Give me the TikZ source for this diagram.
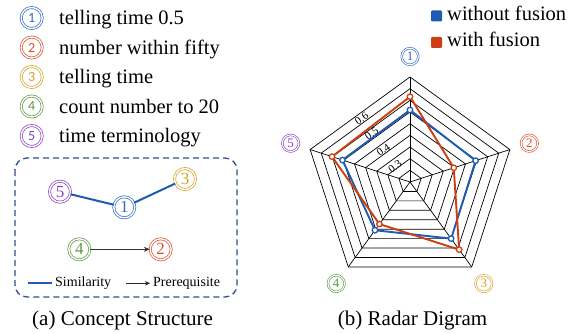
\documentclass[tikz,border=0pt]{standalone}
\usepackage{fontspec}
\setmainfont{Liberation Serif}
\newfontfamily\tnr{Liberation Serif}
\newfontfamily\numfont{Carlito}
\usetikzlibrary{arrows.meta}

\definecolor{cOne}{HTML}{2E6BC6}
\definecolor{cTwo}{HTML}{E04E2B}
\definecolor{cThree}{HTML}{D9A21E}
\definecolor{cFour}{HTML}{5C9A43}
\definecolor{cFive}{HTML}{8B3FC9}
\definecolor{boxblue}{HTML}{2F4E8E}
\definecolor{simblue}{HTML}{1F5BB5}
\definecolor{serBlue}{HTML}{1E5CB3}
\definecolor{serRed}{HTML}{CF3E12}

\begin{document}
\begin{tikzpicture}[x=1pt,y=-1pt,
  ringnode/.style={circle, draw=#1, text=#1, double=white, double distance=1.4pt,
    line width=0.7pt, inner sep=0pt, minimum size=21pt},
  legnum/.style={ringnode=#1, font=\numfont\fontsize{14}{14}\selectfont},
  graphnum/.style={ringnode=#1, font=\tnr\fontsize{17}{17}\selectfont},
  radnum/.style={ringnode=#1, minimum size=16.6pt, double distance=1.1pt,
    line width=0.6pt, font=\tnr\fontsize{13}{13}\selectfont},
  legtext/.style={anchor=base west, inner sep=0pt, font=\tnr\fontsize{20.5}{24}\selectfont},
  smalltext/.style={anchor=west, inner sep=0pt, font=\tnr\fontsize{14}{16}\selectfont},
  caption/.style={anchor=base, inner sep=0pt, font=\tnr\fontsize{21}{24}\selectfont},
  simline/.style={draw=simblue, line width=2pt},
  preline/.style={draw=black!80, line width=1.6pt, -{Stealth[length=6pt,width=5pt]}},
  gridline/.style={draw=black, line width=0.7pt},
  series/.style={draw=#1, line width=1.9pt, line join=round},
  marker/.style={circle, draw=#1, fill=white, line width=1.3pt, inner sep=0pt, minimum size=5.5pt},
  ticklabel/.style={rotate=36, inner sep=0pt, font=\tnr\fontsize{11}{11}\selectfont},
  swatch/.style={fill=#1, minimum size=11pt, inner sep=0pt, rounded corners=1.2pt}]

\useasboundingbox (0,0) rectangle (578,334);

% ---- concept legend ----
\node[legnum=cOne]   (l1) at (31.7,18)  {1};
\node[legnum=cTwo]   (l2) at (31.7,47.5){2};
\node[legnum=cThree] (l3) at (31.7,77)  {3};
\node[legnum=cFour]  (l4) at (31.7,106.5){4};
\node[legnum=cFive]  (l5) at (31.7,136) {5};
\node[legtext] (t1) at (59,24.7)  {telling time 0.5};
\node[legtext] (t2) at (59,54.2)  {number within fifty};
\node[legtext] (t3) at (59,83.7)  {telling time};
\node[legtext] (t4) at (59,113.2) {count number to 20};
\node[legtext] (t5) at (59,142.7) {time terminology};

% ---- concept structure ----
\draw[draw=boxblue, line width=1.3pt, dash pattern=on 6pt off 4pt, rounded corners=12pt]
  (15,158) rectangle (237,297);
\node[graphnum=cFive]  (g5) at (60,191.7)  {5};
\node[graphnum=cOne]   (g1) at (124.3,207.3){1};
\node[graphnum=cThree] (g3) at (185,179)   {3};
\node[graphnum=cFour]  (g4) at (79.3,249.3){4};
\node[graphnum=cTwo]   (g2) at (160.7,249.3){2};
\draw[simline] (g5) -- (g1) -- (g3);
\draw[preline] (g4) -- (g2);

\coordinate (sA) at (27.7,283.3);
\coordinate (sB) at (51.7,283.3);
\draw[simline] (sA) -- (sB);
\node[smalltext] (simlab) at (55,283.3) {Similarity};
\coordinate (pA) at (126,283.3);
\coordinate (pB) at (150,283.3);
\draw[draw=black!85, line width=1.3pt, -{Stealth[length=5pt,width=4.5pt]}] (pA) -- (pB);
\node[smalltext] (prelab) at (153,283.3) {Prerequisite};

\node[caption] (capa) at (122.6,325) {(a) Concept Structure};

% ---- radar chart ----
\begin{scope}[shift={(410,182)}, x=1pt, y=1pt]
  \foreach \k in {1,...,9}
    \draw[gridline] (90:{\k*11.667}) -- (18:{\k*11.667}) -- (-54:{\k*11.667})
      -- (-126:{\k*11.667}) -- (162:{\k*11.667}) -- cycle;
  \foreach \a in {90,18,-54,-126,162}
    \draw[gridline] (0,0) -- (\a:105);

  % without fusion
  \coordinate (b1) at (90:72);
  \coordinate (b2) at (18:69);
  \coordinate (b3) at (-54:70);
  \coordinate (b4) at (-126:59.6);
  \coordinate (b5) at (162:71);
  % with fusion
  \coordinate (r1) at (90:85.3);
  \coordinate (r2) at (18:46);
  \coordinate (r3) at (-54:83.6);
  \coordinate (r4) at (-126:52);
  \coordinate (r5) at (162:82);

  \draw[series=serBlue] (b1) -- (b2) -- (b3) -- (b4) -- (b5) -- cycle;
  \foreach \p in {b1,b2,b3,b4,b5} \node[marker=serBlue] (m\p) at (\p) {};
  \draw[series=serRed] (r1) -- (r2) -- (r3) -- (r4) -- (r5) -- cycle;
  \foreach \p in {r1,r2,r3,r4,r5} \node[marker=serRed] (m\p) at (\p) {};

  \node[radnum=cOne]   (a1) at (90:125.5)  {1};
  \node[radnum=cTwo]   (a2) at (18:125.5)  {2};
  \node[radnum=cThree] (a3) at (-54:125.5) {3};
  \node[radnum=cFour]  (a4) at (-126:125.5){4};
  \node[radnum=cFive]  (a5) at (162:125.5) {5};
\end{scope}

\node[ticklabel] (v3) at (395,166.7)  {0.3};
\node[ticklabel] (v4) at (383.3,150)  {0.4};
\node[ticklabel] (v5) at (371.7,133.3){0.5};
\node[ticklabel] (v6) at (361.7,118.3){0.6};

% ---- radar legend ----
\node[swatch=serBlue] (kb) at (436.5,16) {};
\node[swatch=serRed]  (kr) at (436.5,42.5) {};
\node[legtext] (kbt) at (447,20.5) {without fusion};
\node[legtext] (krt) at (447,47) {with fusion};

\node[caption] (capb) at (412.6,325) {(b) Radar Digram};
\end{tikzpicture}
\end{document}
